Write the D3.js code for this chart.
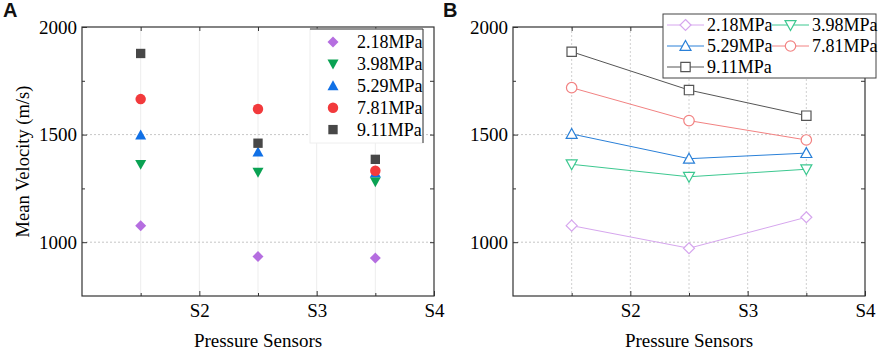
<!DOCTYPE html>
<html>
<head>
<meta charset="utf-8">
<script src="https://cdn.jsdelivr.net/npm/d3@7"></script>
<style>
  body { margin: 0; background: #fff; }
  svg { display: block; }
  .serif { font-family: "Liberation Serif", "Times New Roman", Times, "DejaVu Serif", serif; }
</style>
</head>
<body>
<svg id="chart" width="879" height="352"></svg>
<script>
// data
const sensors = [1.5, 2.5, 3.5];
const pressures = ["2.18MPa", "3.98MPa", "5.29MPa", "7.81MPa", "9.11MPa"];
const xTickLabels = ["S2", "S3", "S4"];
const yTicks = [1000, 1500, 2000];

const velA_218 = [1077, 933, 926];
const velA_398 = [1362, 1325, 1281];
const velA_529 = [1498, 1419, 1322];
const velA_781 = [1665, 1619, 1332];
const velA_911 = [1877, 1460, 1385];

const velB_218 = [1077, 972, 1116];
const velB_398 = [1362, 1304, 1339];
const velB_529 = [1503, 1388, 1414];
const velB_781 = [1718, 1565, 1475];
const velB_911 = [1885, 1707, 1588];

const colorsA = ["#b56ee0", "#0aa253", "#1070e6", "#f23a3c", "#474747"];
const colorsB = ["#d6a6ee", "#3cc890", "#2a80d8", "#f28282", "#555555"];
const shapes = ["diamond", "down", "up", "circle", "square"];

const seriesA = [velA_218, velA_398, velA_529, velA_781, velA_911];
const seriesB = [velB_218, velB_398, velB_529, velB_781, velB_911];

const svg = d3.select("#chart");

function shapePath(kind, s) {
  // s = half-size
  if (kind === "diamond") return `M0,${-s}L${s},0L0,${s}L${-s},0Z`;
  if (kind === "up") return `M0,${-s}L${s},${s * 0.8}L${-s},${s * 0.8}Z`;
  if (kind === "down") return `M0,${s}L${s},${-s * 0.8}L${-s},${-s * 0.8}Z`;
  if (kind === "square") return `M${-s * 0.85},${-s * 0.85}H${s * 0.85}V${s * 0.85}H${-s * 0.85}Z`;
  return d3.arc()({innerRadius: 0, outerRadius: s * 0.95, startAngle: 0, endAngle: 2 * Math.PI});
}

function serifText(sel, size = 18) {
  sel.attr("class", "serif").attr("font-family", null)
    .style("font-size", size + "px").attr("fill", "#000");
}

function panel(opts) {
  const x = d3.scaleLinear().domain([1, 4]).range([opts.left, opts.right]);
  const y = d3.scaleLinear().domain([750, 2000]).range([296, 27]);
  const g = svg.append("g");

  // grid
  g.append("g").selectAll("line").data([1.5, 2, 2.5, 3, 3.5]).join("line")
    .attr("x1", d => x(d)).attr("x2", d => x(d))
    .attr("y1", y(2000)).attr("y2", y(750))
    .attr("stroke", opts.filled ? "#e8e8e8" : "#c4c4c4")
    .attr("stroke-width", 0.8)
    .attr("stroke-dasharray", opts.filled ? null : "2,2");
  g.append("g").selectAll("line").data([1000, 1500]).join("line")
    .attr("x1", x(1)).attr("x2", x(4))
    .attr("y1", d => y(d)).attr("y2", d => y(d))
    .attr("stroke", "#b8b8b8").attr("stroke-width", 0.8)
    .attr("stroke-dasharray", "2,2");

  // axes (inward ticks, mirrored)
  const axStyle = a => a.attr("font-family", null)
    .call(s => s.select(".domain").remove())
    .call(s => s.selectAll("line").attr("stroke", "#333"));
  g.append("g").attr("transform", `translate(0,${y(750)})`)
    .call(d3.axisBottom(x).tickValues([2, 3, 4]).tickSize(-5).tickFormat((d, i) => xTickLabels[i]))
    .call(axStyle)
    .call(s => s.selectAll("text").attr("dy", 0).attr("y", 21).call(serifText, 19));
  g.append("g").attr("transform", `translate(0,${y(750)})`)
    .call(d3.axisBottom(x).tickValues([1.5, 2.5, 3.5]).tickSize(-3).tickFormat(""))
    .call(axStyle);
  g.append("g").attr("transform", `translate(0,${y(2000)})`)
    .call(d3.axisTop(x).tickValues([1.5, 2, 2.5, 3, 3.5]).tickSize(-4).tickFormat(""))
    .call(axStyle);
  g.append("g").attr("transform", `translate(${x(1)},0)`)
    .call(d3.axisLeft(y).tickValues(yTicks).tickSize(-5).tickFormat(d3.format("d")))
    .call(axStyle)
    .call(s => s.selectAll("text").attr("x", -5).call(serifText, 19));
  g.append("g").attr("transform", `translate(${x(1)},0)`)
    .call(d3.axisLeft(y).tickValues([1250, 1750]).tickSize(-3).tickFormat(""))
    .call(axStyle);
  g.append("g").attr("transform", `translate(${x(4)},0)`)
    .call(d3.axisRight(y).tickValues([1000, 1250, 1500, 1750]).tickSize(-4).tickFormat(""))
    .call(axStyle);

  g.append("rect")
    .attr("x", x(1)).attr("y", y(2000))
    .attr("width", x(4) - x(1)).attr("height", y(750) - y(2000))
    .attr("fill", "none").attr("stroke", "#333").attr("stroke-width", 1.2);

  // titles
  g.append("text").attr("x", (x(1) + x(4)) / 2).attr("y", 347)
    .attr("text-anchor", "middle").call(serifText, 19).text("Pressure Sensors");
  if (opts.ytitle) {
    g.append("text")
      .attr("transform", `translate(${opts.left - 53},${(y(750) + y(2000)) / 2}) rotate(-90)`)
      .attr("text-anchor", "middle").call(serifText, 18.5).text(opts.ytitle);
  }
  g.append("text").attr("x", opts.labelX).attr("y", 17)
    .attr("font-family", "'Liberation Sans', Arial, sans-serif").attr("font-weight", "bold")
    .attr("font-size", 20).attr("fill", "#111").text(opts.label);

  const data = opts.series.map((vals, i) => vals.map((v, j) => ({s: i, x: sensors[j], v})));

  if (!opts.filled) {
    const line = d3.line().x(d => x(d.x)).y(d => y(d.v));
    g.append("g").selectAll("path").data(data).join("path")
      .attr("d", line).attr("fill", "none")
      .attr("stroke", (d, i) => opts.colors[i]).attr("stroke-width", 1);
  }

  g.append("g").selectAll("path").data(data.flat()).join("path")
    .attr("transform", d => `translate(${x(d.x)},${y(d.v)})`)
    .attr("d", d => shapePath(shapes[d.s], 5.5))
    .attr("fill", d => opts.filled ? opts.colors[d.s] : "#fff")
    .attr("stroke", d => opts.filled ? "none" : opts.colors[d.s])
    .attr("stroke-width", 1.2);

  return g;
}

// panel A
const gA = panel({left: 82, right: 434, series: seriesA, colors: colorsA, filled: true,
  ytitle: "Mean Velocity (m/s)", label: "A", labelX: 3});

const legA = gA.append("g");
legA.append("rect").attr("x", 310).attr("y", 29).attr("width", 113).attr("height", 114)
  .attr("fill", "#fff").attr("stroke", "#eee");
legA.append("path").attr("d", "M310,29H423V143").attr("fill", "none").attr("stroke", "#333");
pressures.forEach((p, i) => {
  const cy = 42 + i * 21.9;
  legA.append("path").attr("transform", `translate(333,${cy})`)
    .attr("d", shapePath(shapes[i], 5.5)).attr("fill", colorsA[i]);
  legA.append("text").attr("x", 357).attr("y", cy + 6).call(serifText).text(p);
});

// panel B
const gB = panel({left: 513, right: 865, series: seriesB, colors: colorsB, filled: false,
  label: "B", labelX: 443});

const legB = gB.append("g");
legB.append("rect").attr("x", 663).attr("y", 14).attr("width", 213).attr("height", 64)
  .attr("fill", "#fff").attr("stroke", "#444").attr("stroke-width", 1);
pressures.forEach((p, i) => {
  const col = i % 2, row = Math.floor(i / 2);
  const lx = col === 0 ? 667 : 772;
  const cy = 25 + row * 21;
  legB.append("line").attr("x1", lx).attr("x2", lx + 37).attr("y1", cy).attr("y2", cy)
    .attr("stroke", colorsB[i]).attr("stroke-width", 1);
  legB.append("path").attr("transform", `translate(${lx + 18.5},${cy})`)
    .attr("d", shapePath(shapes[i], 5.5)).attr("fill", "#fff")
    .attr("stroke", colorsB[i]).attr("stroke-width", 1.2);
  legB.append("text").attr("x", lx + 40).attr("y", cy + 6).call(serifText).text(p);
});
</script>
</body>
</html>
